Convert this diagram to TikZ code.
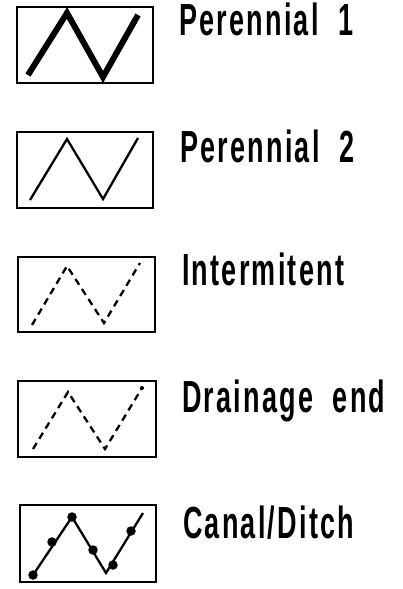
\documentclass[tikz,border=0pt]{standalone}
\usepackage{fontspec}
\setmainfont[FakeStretch=0.6,LetterSpace=5,WordSpace=2]{Liberation Sans}
\begin{document}
\begin{tikzpicture}[x=1pt,y=-1pt,
  frame/.style={draw=black,line width=1.6pt},
  wave/.style={line width=2.3pt,line join=miter},
  thickwave/.style={line width=6pt,line cap=butt,line join=miter},
  dashwave/.style={line width=2.3pt,dash pattern=on 7pt off 5pt},
  lbl/.style={anchor=base west,inner sep=0pt,font=\fontsize{45}{48}\selectfont\bfseries},
  dot/.style={circle,fill=black,inner sep=0pt,minimum size=9.5pt}]
\useasboundingbox (0,0) rectangle (402,589);
% 1
\draw[frame] (17,7) rectangle (153,83);
\draw[thickwave] (28,75) -- (67,13) -- (103,77) -- (138,15);
\node[lbl] (t1) at (179,35) {Perennial 1};
% 2
\draw[frame] (17,132) rectangle (153,208);
\draw[wave] (30,200) -- (67,139) -- (103,199) -- (138,138);
\node[lbl] (t2) at (180,162) {Perennial 2};
% 3
\draw[frame] (18,257) rectangle (155,332);
\draw[dashwave] (32,325) -- (67,266) -- (104,323) -- (140,263);
\node[lbl] (t3) at (182,285) {Intermitent};
% 4
\draw[frame] (18,381) rectangle (156,457);
\draw[dashwave] (33,449) -- (68,392) -- (105,449) -- (142,388);
\fill (142,388) circle (2pt);
\node[lbl] (t4) at (182,412) {Drainage end};
% 5
\draw[frame] (20,505) rectangle (156,582);
\draw[wave] (33,575) -- (72,517) -- (106,573) -- (143,513);
\node[dot] (d1) at (33,575) {};
\node[dot] (d2) at (52,542) {};
\node[dot] (d3) at (72,517) {};
\node[dot] (d4) at (93,550) {};
\node[dot] (d5) at (113,565) {};
\node[dot] (d6) at (131,531) {};
\node[lbl] (t5) at (183,538) {Canal/Ditch};
\end{tikzpicture}
\end{document}
